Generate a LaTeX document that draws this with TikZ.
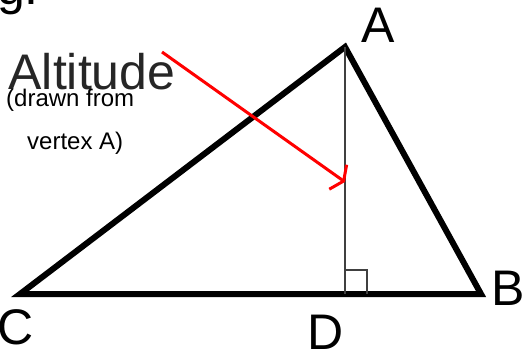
\documentclass[tikz,border=0pt]{standalone}
\usepackage{fontspec}
\setmainfont{Liberation Sans}
\usetikzlibrary{arrows.meta}
\begin{document}
\begin{tikzpicture}[x=1pt,y=-1pt,
  big/.style={font=\fontsize{50}{50}\selectfont, inner sep=0pt, text=black},
  small/.style={font=\fontsize{24}{24}\selectfont, inner sep=0pt, anchor=base west, text=black},
  side/.style={line width=6pt, line join=miter, black},
  altline/.style={line width=2pt, black!75},
  pointer/.style={line width=3pt, red, -{Straight Barb[length=7pt,width=30pt,line width=3pt]}}]
\useasboundingbox (0,0) rectangle (526,352);
\coordinate (A) at (345,47);
\coordinate (B) at (481,294);
\coordinate (C) at (20,294);
\coordinate (D) at (345,294);
\coordinate (S1) at (345,270);
\coordinate (S2) at (367,270);
\coordinate (S3) at (367,294);
\coordinate (P0) at (162,52);
\coordinate (P1) at (345,182);
% cut-off heading
\node[big, anchor=base west] (gtxt) at (-3,5) {g:};
% triangle
\draw[side] (C) -- (A) -- (B) -- cycle;
% altitude
\draw[altline] (A) -- (D);
\draw[line width=1.5pt, black!75] (S1) -- (S2) -- (S3);
% labels
\node[big] (lA) at (378,25) {A};
\node[big] (lB) at (508,288) {B};
\node[big] (lC) at (16,327) {C};
\node[big] (lD) at (326,332) {D};
\node[big, text=black!85] (alt) at (92,72) {Altitude};
\node[small] (t1) at (6,107) {(drawn from};
\node[small] (t2) at (27,150) {vertex A)};
% red arrow
\draw[pointer] (P0) -- (P1);
\end{tikzpicture}
\end{document}
